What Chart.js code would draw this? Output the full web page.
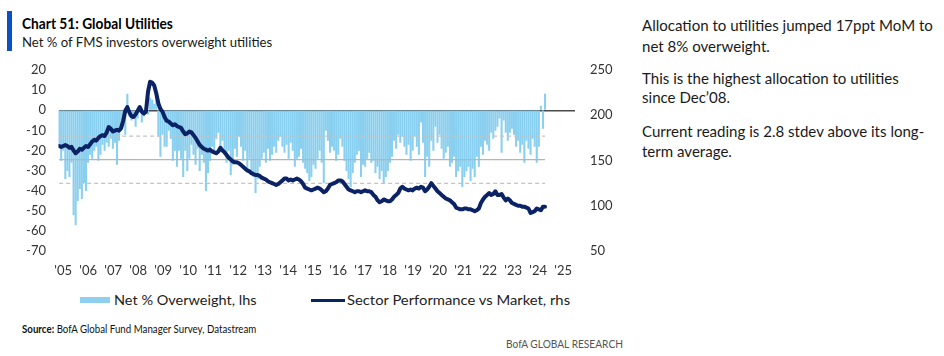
<!DOCTYPE html>
<html><head><meta charset="utf-8">
<script src="https://cdn.jsdelivr.net/npm/chart.js@4"></script>
<style>
html,body{margin:0;padding:0;}
body{width:944px;height:356px;background:#fff;position:relative;overflow:hidden;font-family:Lato,"Noto Sans",sans-serif;color:#1a1a1a;}
.t{position:absolute;white-space:nowrap;transform-origin:0 50%;}
#accent{position:absolute;left:7px;top:11px;width:5px;height:40px;background:#0a52c4;}
#wrap{position:absolute;left:0;top:0;width:625px;height:290px;}
.sw{position:absolute;}
</style></head>
<body>
<div id="accent"></div>
<div class="t" id="title" data-w="151" style="left:22px;top:14px;font-size:15px;line-height:18px;font-weight:700;color:#000;">Chart 51: Global Utilities</div>
<div class="t" id="sub" data-w="250" style="left:22px;top:34px;font-size:13px;line-height:16px;">Net % of FMS investors overweight utilities</div>

<div id="side">
<div class="t side" id="s1" style="left:642px;top:15px;font-size:15px;line-height:20px;">Allocation to utilities jumped 17ppt MoM to</div>
<div class="t side" style="left:642px;top:36px;font-size:15px;line-height:20px;">net 8% overweight.</div>
<div class="t side" style="left:642px;top:68px;font-size:15px;line-height:20px;">This is the highest allocation to utilities</div>
<div class="t side" style="left:642px;top:87px;font-size:15px;line-height:20px;">since Dec’08.</div>
<div class="t side" style="left:642px;top:121px;font-size:15px;line-height:20px;">Current reading is 2.8 stdev above its long-</div>
<div class="t side" style="left:642px;top:141px;font-size:15px;line-height:20px;">term average.</div>
</div>

<div id="wrap"><canvas id="c" width="625" height="290"></canvas></div>

<div class="sw" style="left:80px;top:297px;width:30px;height:6px;background:#8fd0ef;"></div>
<div class="t" data-w="143" style="left:114px;top:292px;font-size:14px;line-height:16px;color:#222;">Net % Overweight, lhs</div>
<div class="sw" style="left:311px;top:299px;width:34px;height:3px;background:#0b2265;"></div>
<div class="t" data-w="223" style="left:347px;top:292px;font-size:14px;line-height:16px;color:#222;">Sector Performance vs Market, rhs</div>

<div class="t" data-w="234" style="left:22px;top:322px;font-size:10.5px;line-height:14px;color:#111;"><b>Source:</b> BofA Global Fund Manager Survey, Datastream</div>
<div class="t" id="brand" data-w="117" style="left:506px;top:337px;font-size:10.5px;line-height:14px;color:#555;">BofA GLOBAL RESEARCH</div>

<script>
// ---- data (monthly, first point ~Dec 2004, last ~mid 2024) ----
const netOverweight = [
 -18,-25,-20,-34,-30,-33,-26,-52,-57,-45,-39,-44,
 -36,-40,-26,-22,-24,-20,-18,-25,-22,-17,-20,-16,
 -18,-14,-19,-16,-27,-15,-10,-8,-12,8,-3,-5,
 -2,-8,-4,-1,-6,-3,2,-2,6,5,3,9,
 -13,-23,-12,-18,-18,-10,-14,-25,-20,-28,-20,-24,
 -33,-20,-30,-24,-17,-22,-27,-19,-30,-22,-26,-40,
 -31,-25,-18,-21,-14,-11,-19,-15,-22,-26,-20,-32,
 -27,-19,-23,-13,-18,-25,-20,-29,-24,-30,-33,-41,
 -34,-28,-24,-21,-26,-19,-25,-22,-18,-21,-15,-13,
 -18,-21,-17,-24,-16,-20,-28,-24,-23,-19,-26,-29,
 -31,-35,-33,-27,-29,-24,-20,-26,-36,-10,-15,-21,
 -18,-20,-25,-22,-14,-18,-25,-30,-34,-38,-31,-26,
 -22,-20,-33,-27,-28,-24,-21,-26,-25,-31,-28,-34,
 -30,-36,-33,-30,-26,-23,-15,-19,-12,-16,-13,-18,
 -22,-17,-25,-20,-13,-18,-22,-6,-16,-33,-23,-28,
 -15,-20,-8,-16,-12,-19,-24,-21,-18,-28,-26,-23,
 -33,-30,-28,-38,-33,-30,-28,-35,-29,-33,-23,-28,
 -18,-22,-15,-17,-20,-11,-14,-10,-8,-4,-21,-5,
 -11,-15,-11,-9,-12,-18,-15,-21,-17,-26,-15,-19,
 -22,-14,-18,-26,-18,2,-9,8
];
const sectorPerf = [
 166,165,166,167,166,164,165,161,158,160,163,162,
 164,166,165,168,171,173,172,175,177,178,177,181,
 187,185,182,183,184,183,186,194,205,209,203,199,
 198,201,205,209,204,202,204,226,237,236,233,224,
 213,207,204,198,194,193,191,189,190,188,187,186,
 182,179,180,182,181,178,175,171,167,165,163,162,
 161,162,160,159,158,160,164,161,159,156,153,151,
 149,148,148,147,145,143,141,139,138,136,135,134,
 134,133,131,130,129,127,126,125,124,123,124,126,
 128,130,130,128,129,128,129,130,129,127,124,120,
 119,118,117,118,119,120,119,117,115,116,119,123,
 124,125,126,128,128,127,124,121,118,117,116,115,
 116,116,115,116,117,116,116,115,112,110,106,104,
 105,107,106,105,105,107,110,112,114,119,121,119,
 118,117,118,117,119,120,119,121,120,116,118,121,
 125,122,119,116,114,112,110,108,107,106,104,102,
 98,97,96,96,97,97,96,96,95,94,95,97,
 103,107,110,112,114,112,113,116,112,112,113,109,
 106,108,106,103,102,101,100,100,99,99,98,97,
 92,93,94,97,96,95,99,99
];
const yearLabels = ["'05","'06","'07","'08","'09","'10","'11","'12","'13","'14","'15","'16","'17","'18","'19","'20","'21","'22","'23","'24","'25"];
const avgLevel = [-24.6];
const stdevBand = [-12.9, -36.4];
const leftTicks = [-70, 20, 10];
const rightTicks = [50, 250, 50];

// ---- build ----
const lastIdx = netOverweight.length - 1;
const barPts = netOverweight.map((v, i) => ({x: i, y: v}));
const linePts = sectorPerf.map((v, i) => ({x: i, y: v}));
const flat = v => [{x: 0, y: v}, {x: lastIdx, y: v}];

const FONT = {family: 'Lato, "Noto Sans", sans-serif', size: 13};
const firstTick = 1.94, tickGap = 12.09;

new Chart(document.getElementById('c'), {
  type: 'bar',
  data: {
    datasets: [
      {type: 'line', data: linePts, yAxisID: 'yR', borderColor: '#0b2265', borderWidth: 4,
       pointRadius: 0, tension: 0, borderJoinStyle: 'round', borderCapStyle: 'round', order: 1},
      {type: 'line', data: flat(avgLevel[0]), yAxisID: 'yL', borderColor: '#b5b5b5', borderWidth: 1.2,
       pointRadius: 0, order: 2},
      {type: 'line', data: flat(stdevBand[0]), yAxisID: 'yL', borderColor: '#c4c4c4', borderWidth: 1.2,
       borderDash: [4, 3], pointRadius: 0, order: 2},
      {type: 'line', data: flat(stdevBand[1]), yAxisID: 'yL', borderColor: '#c4c4c4', borderWidth: 1.2,
       borderDash: [4, 3], pointRadius: 0, order: 2},
      {type: 'bar', data: barPts, yAxisID: 'yL', backgroundColor: '#89cfef', barThickness: 1.4, order: 3}
    ]
  },
  options: {
    responsive: false, animation: false, events: [],
    layout: {padding: {top: 70, left: 0, right: 0, bottom: 0}},
    plugins: {legend: {display: false}, tooltip: {enabled: false}},
    scales: {
      x: {
        type: 'linear', min: -0.3, max: 249.5, offset: false,
        grid: {display: false, drawTicks: false}, border: {display: false},
        afterFit: s => { s.height = 39; },
        afterBuildTicks: s => { s.ticks = yearLabels.map((l, k) => ({value: firstTick + k * tickGap})); },
        ticks: {autoSkip: false, maxRotation: 0, padding: 12, color: '#333', font: FONT,
                callback: (v, idx) => yearLabels[idx]}
      },
      yL: {
        position: 'left', min: leftTicks[0], max: leftTicks[1],
        ticks: {stepSize: leftTicks[2], padding: 12.5, color: '#333', font: FONT},
        grid: {drawTicks: false, lineWidth: 1.4, color: c => (c.tick && c.tick.value === 0) ? '#4a4a4a' : 'rgba(0,0,0,0)'},
        border: {display: false},
        afterFit: s => { s.width = 58.5; }
      },
      yR: {
        position: 'right', min: rightTicks[0], max: rightTicks[1],
        ticks: {stepSize: rightTicks[2], padding: 15, color: '#333', font: FONT},
        grid: {display: false, drawTicks: false}, border: {display: false},
        afterFit: s => { s.width = 50; }
      }
    }
  }
});

// ---- fit text widths to the reference ----
function fitAll() {
  document.querySelectorAll('[data-w]').forEach(el => {
    el.style.transform = 'none';
    const w = el.offsetWidth;
    if (w > 0) el.style.transform = 'scaleX(' + (parseFloat(el.dataset.w) / w) + ')';
  });
  const s1 = document.getElementById('s1');
  const sides = document.querySelectorAll('.side');
  sides.forEach(el => el.style.transform = 'none');
  const k = 291 / s1.offsetWidth;
  sides.forEach(el => el.style.transform = 'scaleX(' + k + ')');
}
fitAll();
if (document.fonts && document.fonts.ready) document.fonts.ready.then(fitAll);
</script>
</body></html>
